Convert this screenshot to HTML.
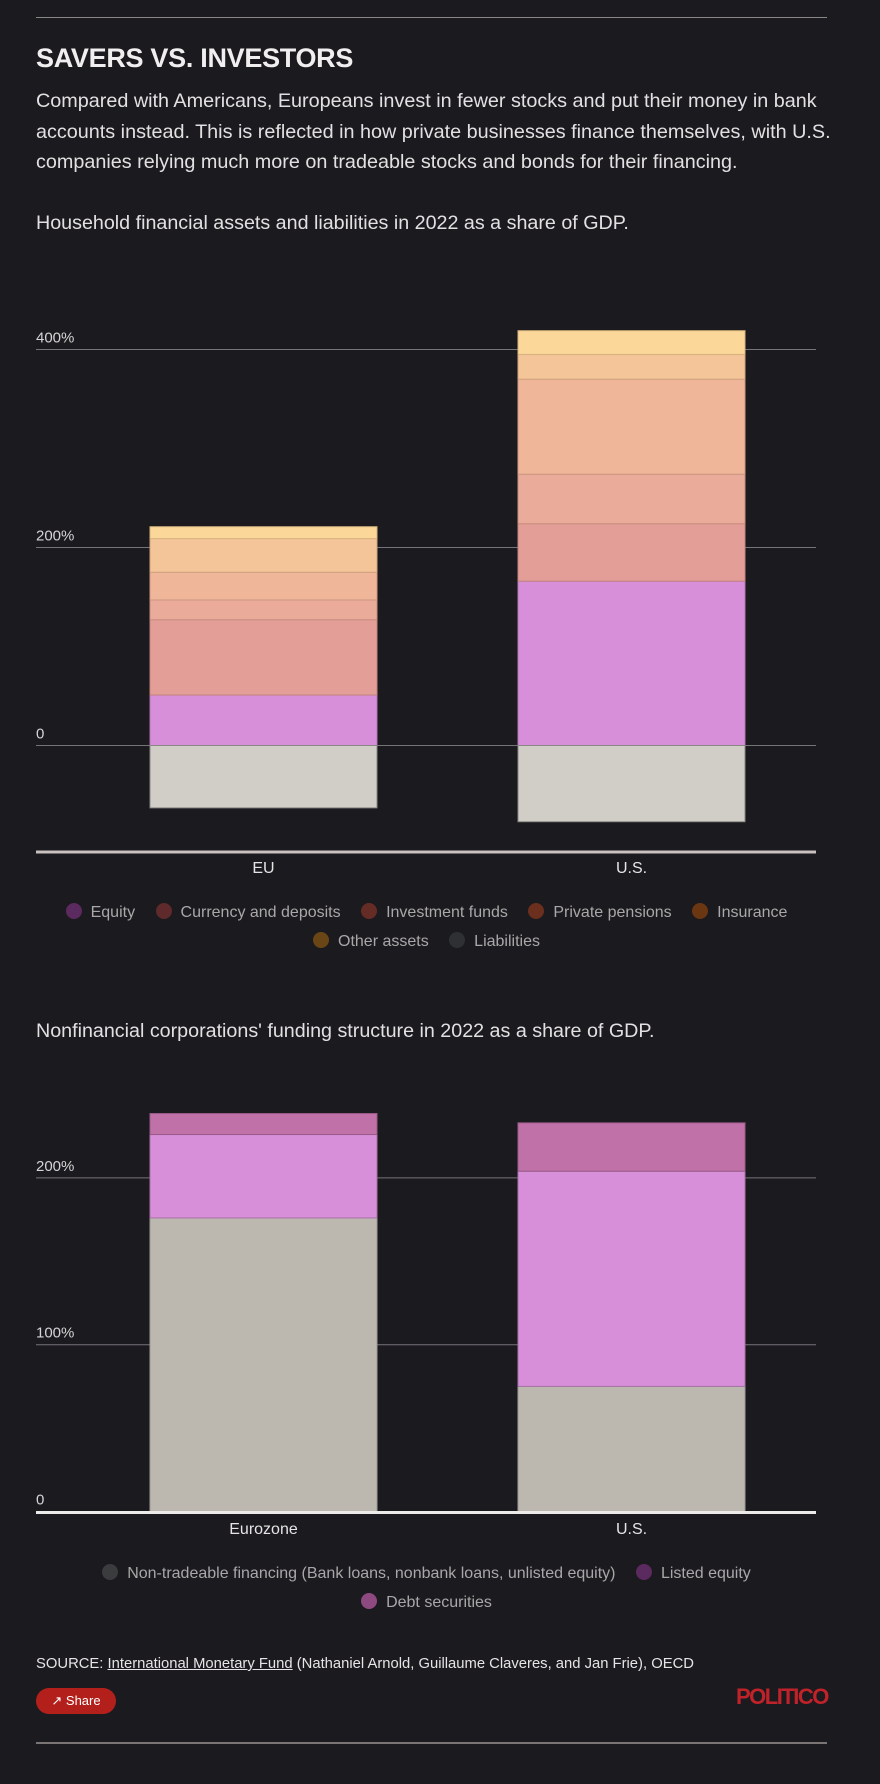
<!DOCTYPE html>
<html><head><meta charset="utf-8">
<style>
html,body{margin:0;padding:0;background:#1b1a1f;}
body{width:880px;height:1784px;position:relative;overflow:hidden;font-family:"Liberation Sans",sans-serif;color:#e6e4e4;}
.abs{position:absolute;}
.rule{position:absolute;left:36px;width:791px;height:1px;background:#8a8686;}
#title{left:36px;top:43px;font-size:27px;font-weight:bold;letter-spacing:-0.3px;color:#f0eeee;}
#dek{left:36px;top:86px;width:835px;font-size:19.8px;line-height:30.5px;color:#e2e0e0;}
.sub{left:36px;font-size:19.7px;color:#e2e0e0;}
.legend{position:absolute;left:36px;width:781px;text-align:center;font-size:16px;color:#a9a7a7;line-height:29px;}
.li{display:inline-block;margin:0 8px;white-space:nowrap;}
.dot{display:inline-block;width:16px;height:16px;border-radius:50%;vertical-align:-2px;margin-right:9px;}
svg text{font-family:"Liberation Sans",sans-serif;}
</style></head><body>
<div class="rule" style="top:17px;"></div>
<div id="title" class="abs">SAVERS VS. INVESTORS</div>
<div id="dek" class="abs">Compared with Americans, Europeans invest in fewer stocks and put their money in bank accounts instead. This is reflected in how private businesses finance themselves, with U.S. companies relying much more on tradeable stocks and bonds for their financing.</div>
<div class="abs sub" style="top:212px;">Household financial assets and liabilities in 2022 as a share of GDP.</div>

<svg id="c1" class="abs" style="left:0;top:0" width="880" height="900"></svg>

<div class="legend" style="top:898px;">
<span class="li"><span class="dot" style="background:#5b2a5f"></span>Equity</span>
<span class="li"><span class="dot" style="background:#5e2a2b"></span>Currency and deposits</span>
<span class="li"><span class="dot" style="background:#652c25"></span>Investment funds</span>
<span class="li"><span class="dot" style="background:#6a2f1d"></span>Private pensions</span>
<span class="li"><span class="dot" style="background:#6b3612"></span>Insurance</span><br>
<span class="li"><span class="dot" style="background:#6a4515"></span>Other assets</span>
<span class="li"><span class="dot" style="background:#2e3033"></span>Liabilities</span>
</div>

<div class="abs sub" style="top:1020px;">Nonfinancial corporations' funding structure in 2022 as a share of GDP.</div>

<svg id="c2" class="abs" style="left:0;top:0" width="880" height="1560"></svg>

<div class="legend" style="top:1559px;">
<span class="li"><span class="dot" style="background:#3a3c3d"></span>Non-tradeable financing (Bank loans, nonbank loans, unlisted equity)</span>
<span class="li"><span class="dot" style="background:#5b2a5f"></span>Listed equity</span><br>
<span class="li"><span class="dot" style="background:#8e4a80"></span>Debt securities</span>
</div>

<div class="abs" style="left:36px;top:1656px;font-size:14.8px;color:#e6e4e4;">SOURCE: <span style="text-decoration:underline;">International Monetary Fund</span> (Nathaniel Arnold, Guillaume Claveres, and Jan Frie), OECD</div>
<div class="abs" style="left:36px;top:1688px;width:80px;height:26px;border-radius:13px;background:#b3201b;color:#fff;font-size:13px;line-height:26px;text-align:center;">&#x2197;&nbsp;Share</div>
<div class="abs" style="left:736px;top:1684px;font-size:22px;font-weight:bold;color:#c0222a;letter-spacing:-1.5px;">POLITICO</div>
<div class="rule" style="top:1742px;height:2px;background:#7a7474;"></div>

<script>
const NS='http://www.w3.org/2000/svg';
// Chart 1 data
const cats1=['EU','U.S.'];
const series1Names=['Equity','Currency and deposits','Investment funds','Private pensions','Insurance','Other assets'];
const equity1=[51,166];
const currency1=[76,58];
const funds1=[20,50];
const pensions1=[28,96];
const insurance1=[34,25];
const other1=[12,24];
const liabilities1=[63,77];
const ticks1=[0,200,400];
const tickLabels1=['0','200%','400%'];
// Chart 2 data
const cats2=['Eurozone','U.S.'];
const nontradeable2=[176,75];
const listed2=[50,129];
const debt2=[12.6,29];
const ticks2=[0,100,200];
const tickLabels2=['0','100%','200%'];

function el(svg,tag,attrs){const e=document.createElementNS(NS,tag);for(const k in attrs)e.setAttribute(k,attrs[k]);svg.appendChild(e);return e;}

function drawChart(svg,opt){
  const y=v=>opt.zeroY-v*opt.pxPer;
  const xLeft=36,xRight=816;
  const bx=i=>opt.barX[i];
  opt.ticks.forEach((t,i)=>{
    const l=el(svg,'line',{x1:xLeft,x2:xRight,y1:y(t),y2:y(t),stroke:'#77737a','stroke-width':1});
    
    
    const tx=el(svg,'text',{x:xLeft,y:y(t)-7,fill:'#d6d4d4','font-size':15});
    tx.textContent=opt.tickLabels[i];
    
    
  });
  opt.cats.forEach((c,i)=>{
    let base=0;
    opt.series.forEach((s,j)=>{
      const v=s.values[i];
      const r=el(svg,'rect',{x:bx(i),width:opt.barW,y:y(base+v),height:v*opt.pxPer,fill:s.color,stroke:s.stroke,'stroke-width':1});
      
      
      base+=v;
    });
    if(opt.neg){
      const v=opt.neg.values[i];
      const r=el(svg,'rect',{x:bx(i),width:opt.barW,y:y(0),height:v*opt.pxPer,fill:opt.neg.color,stroke:'#8a8884','stroke-width':1});
      
      
    }
    const t=el(svg,'text',{x:bx(i)+opt.barW/2,y:opt.labelY,fill:'#e6e4e4','font-size':16,'text-anchor':'middle'});
    t.textContent=c;
    
    
  });
  const a=el(svg,'line',{x1:xLeft,x2:xRight,y1:opt.axisY,y2:opt.axisY,stroke:opt.axisColor,'stroke-width':3});
  
  
}

drawChart(document.getElementById('c1'),{
  zeroY:745.5,pxPer:0.99,barX:[150,518],barW:227,axisY:852,axisColor:'#c9c1bf',labelY:873,
  ticks:ticks1,tickLabels:tickLabels1,cats:cats1,
  series:[
    {key:'equity',values:equity1,color:'#d68fd8',stroke:'#b077b2'},
    {key:'currency',values:currency1,color:'#e49e98',stroke:'#c3837e'},
    {key:'funds',values:funds1,color:'#eaab9a',stroke:'#c78d7e'},
    {key:'pensions',values:pensions1,color:'#f0b69a',stroke:'#cc9880'},
    {key:'insurance',values:insurance1,color:'#f5c59a',stroke:'#d0a47c'},
    {key:'other',values:other1,color:'#fbd79a',stroke:'#d4b47e'}
  ],
  neg:{values:liabilities1,color:'#d1cec8'}
});
drawChart(document.getElementById('c2'),{
  zeroY:1511.5,pxPer:1.668,barX:[150,518],barW:227,axisY:1512.5,axisColor:'#ecebea',labelY:1534,
  ticks:ticks2,tickLabels:tickLabels2,cats:cats2,
  series:[
    {key:'nontradeable',values:nontradeable2,color:'#bcb8b0',stroke:'#9e9a94'},
    {key:'listed',values:listed2,color:'#d68fd8',stroke:'#a872a8'},
    {key:'debt',values:debt2,color:'#bf71a8',stroke:'#9a5a88'}
  ]
});
</script>
</body></html>
